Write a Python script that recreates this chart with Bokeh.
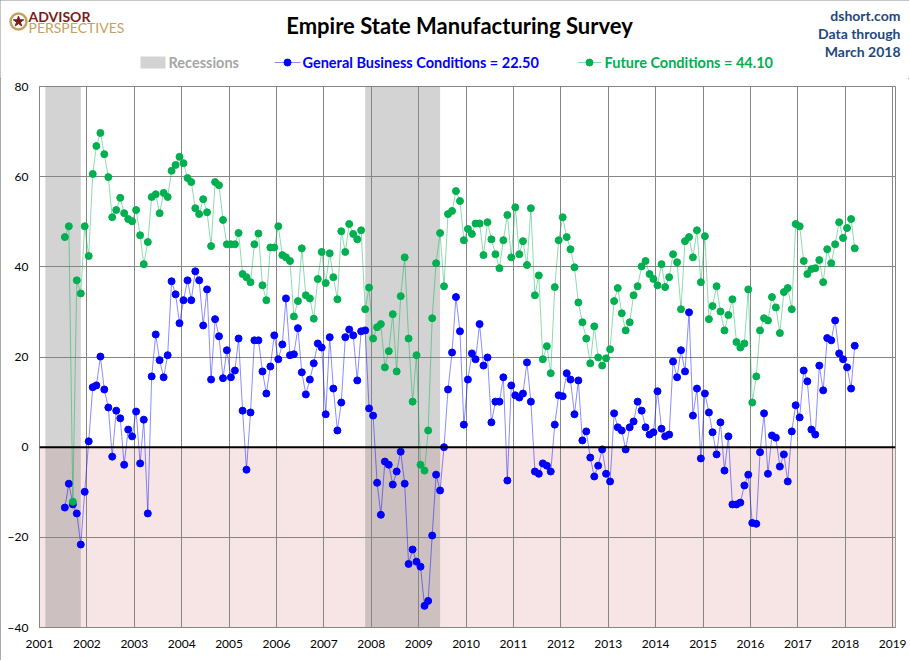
import pandas as pd
from bokeh.plotting import figure
from bokeh.layouts import column
from bokeh.models import Range1d, Span, Label, SingleIntervalTicker
from bokeh.embed import file_html
from bokeh.resources import INLINE

# monthly survey readings, Jul 2001 .. Mar 2018
first_month = "2001-07-01"
last_month = "2018-03-01"

general = [
    # 2001 (Jul-Dec)
    -13.4, -8.1, -12.7, -14.7, -21.6, -9.9,
    # 2002
    1.3, 13.3, 13.7, 20.1, 12.8, 8.8, -2.1, 8.1, 6.4, -3.9, 3.9, 2.4,
    # 2003
    7.9, -3.6, 6.1, -14.7, 15.7, 25.0, 19.3, 15.5, 20.4, 36.8, 33.9, 27.5,
    # 2004
    32.6, 37.0, 32.6, 39.0, 37.0, 27.0, 35.0, 15.0, 28.4, 24.6, 15.3, 21.5,
    # 2005
    15.5, 17.0, 24.1, 8.1, -5.0, 7.7, 23.7, 23.7, 16.8, 11.9, 17.9, 24.8,
    # 2006
    19.5, 22.8, 33.0, 20.4, 20.6, 26.4, 16.6, 11.7, 15.0, 18.6, 23.0, 22.1,
    # 2007
    7.3, 24.4, 13.0, 3.7, 9.9, 24.4, 26.1, 24.8, 14.8, 25.7, 25.9, 8.6,
    # 2008
    7.0, -7.9, -15.0, -3.2, -3.9, -8.3, -5.4, -1.0, -8.1, -25.9, -22.7, -25.4,
    # 2009
    -26.5, -35.2, -34.1, -19.6, -6.1, -9.6, 0.0, 12.8, 21.0, 33.3, 25.7, 5.0,
    # 2010
    15.0, 20.8, 19.5, 27.3, 18.1, 19.9, 5.5, 10.1, 10.1, 15.5, -7.4, 13.7,
    # 2011
    11.5, 11.0, 11.9, 18.8, 10.1, -5.4, -5.9, -3.6, -4.1, -5.4, 5.0, 11.5,
    # 2012
    11.3, 16.4, 15.0, 7.3, 14.8, 1.5, 3.5, -2.3, -6.5, -4.1, -0.5, -5.9,
    # 2013
    -7.6, 7.5, 4.4, 3.7, -0.5, 4.4, 5.7, 10.1, 8.1, 4.4, 2.8, 3.3,
    # 2014
    12.4, 4.1, 2.4, 2.8, 19.0, 15.5, 21.5, 16.8, 29.9, 7.0, 13.0, -2.5,
    # 2015
    11.9, 7.7, 3.3, -1.6, 5.5, -5.2, 2.4, -12.7, -12.7, -12.3, -8.5, -6.1,
    # 2016
    -16.8, -17.0, -1.1, 7.5, -5.9, 2.6, 2.1, -4.3, -1.6, -7.6, 3.5, 9.3,
    # 2017
    6.6, 17.0, 14.6, 3.9, 2.8, 18.1, 12.6, 24.2, 23.7, 28.1, 20.8, 19.5,
    # 2018 (Jan-Mar)
    17.7, 13.0, 22.5,
]

future = [
    # 2001 (Jul-Dec)
    46.6, 49.0, -12.1, 37.0, 34.1, 49.0,
    # 2002
    42.4, 60.6, 66.8, 69.7, 65.0, 59.9, 51.0, 52.6, 55.3, 51.9, 50.6, 50.1,
    # 2003
    52.6, 47.0, 40.6, 45.5, 55.5, 56.1, 51.9, 56.4, 55.5, 61.3, 62.6, 64.4,
    # 2004
    63.0, 59.7, 58.8, 53.0, 51.7, 55.0, 52.1, 44.6, 58.8, 58.1, 50.4, 45.0,
    # 2005
    45.0, 45.0, 47.5, 38.4, 37.7, 36.6, 45.0, 47.4, 35.9, 32.6, 44.3, 44.3,
    # 2006
    49.0, 42.6, 42.1, 41.3, 29.0, 32.4, 44.1, 33.7, 33.0, 28.5, 37.3, 43.3,
    # 2007
    36.4, 43.0, 37.7, 32.8, 47.9, 43.3, 49.5, 47.3, 46.1, 48.1, 30.6, 35.4,
    # 2008
    24.1, 26.6, 27.3, 17.7, 21.3, 29.5, 16.8, 33.5, 42.1, 24.1, 10.1, 20.4,
    # 2009
    -3.9, -5.2, 3.7, 28.6, 40.8, 47.5, 35.7, 51.7, 52.4, 56.8, 54.6, 45.9,
    # 2010
    48.4, 47.3, 49.6, 49.6, 42.6, 49.9, 46.1, 42.8, 39.7, 45.9, 51.5, 42.1,
    # 2011
    53.2, 42.8, 45.7, 40.4, 53.0, 33.7, 38.1, 19.5, 22.4, 16.4, 35.5, 45.9,
    # 2012
    51.0, 46.6, 43.9, 39.9, 32.1, 27.7, 24.1, 18.6, 26.8, 19.9, 18.1, 19.7,
    # 2013
    21.7, 32.4, 35.3, 29.7, 25.9, 27.7, 33.7, 35.7, 40.1, 41.3, 38.4, 37.3,
    # 2014
    35.9, 40.6, 35.5, 37.7, 42.8, 41.0, 30.6, 45.7, 46.6, 42.1, 48.1, 36.6,
    # 2015
    46.8, 28.4, 31.3, 35.7, 30.1, 25.9, 29.3, 32.8, 23.3, 22.1, 23.0, 35.0,
    # 2016
    9.9, 15.7, 25.9, 28.6, 28.1, 33.3, 31.0, 25.3, 34.4, 35.3, 30.6, 49.5,
    # 2017
    49.0, 41.3, 38.4, 39.5, 39.7, 41.5, 36.6, 43.9, 40.8, 45.0, 49.9, 46.4,
    # 2018 (Jan-Mar)
    48.6, 50.6, 44.1,
]

# recession shading as drawn on the chart
recession_start = ["2001-02-15", "2007-11-15"]
recession_end = ["2001-11-15", "2009-06-15"]

general_label = "General Business Conditions = %.2f" % general[-1]
future_label = "Future Conditions = %.2f" % future[-1]

BLUE = "#0000ff"
GREEN = "#00b050"
NAVY = "#1f497d"


def yearfrac(d):
    d = pd.Timestamp(d)
    days = 366 if d.is_leap_year else 365
    return d.year + (d.dayofyear - 1) / days


months = pd.date_range(first_month, last_month, freq="MS") + pd.Timedelta(days=14)
x = [yearfrac(m) for m in months]
assert len(x) == len(general) == len(future)

W, H = 909, 660
HEAD = 78

# ---- header strip: title, logo, legend, source (pixel coordinates)
h = figure(width=W, height=HEAD, output_backend="svg", toolbar_location=None,
           x_range=Range1d(0, W), y_range=Range1d(HEAD, 0),
           x_axis_location=None, y_axis_location=None,
           min_border=0, min_border_left=0, min_border_right=0,
           min_border_top=0, min_border_bottom=0)
h.frame_align = False
h.grid.visible = False
h.outline_line_color = None


def htext(txt, hx, hy, size, color, align="left", style="bold", font="Lato"):
    h.add_layout(Label(x=hx, y=hy, text=txt, text_font=font, text_font_size=size,
                       text_color=color, text_font_style=style,
                       text_align=align, text_baseline="middle"))


htext("Empire State Manufacturing Survey", 459, 25, "22px", "black", "center")
htext("dshort.com", 900, 15, "14px", NAVY, "right")
htext("Data through", 900, 33, "14px", NAVY, "right")
htext("March 2018", 900, 51, "14px", NAVY, "right")

# logo
h.scatter([18], [21], marker="circle", size=16, fill_color=None,
          line_color="#c4a061", line_width=2.5)
h.scatter([18], [21], marker="star", size=11, fill_color="#7b1c1c",
          line_color="#7b1c1c")
htext("ADVISOR", 28, 16, "14px", "#7b1c1c")
htext("PERSPECTIVES", 28, 27, "14px", "#c4a061", style="normal")

# legend
h.quad(left=[140], right=[165], top=[56], bottom=[68], fill_color="#d3d3d3",
       line_color=None)
htext("Recessions", 168, 62, "14.5px", "#a6a6a6")
h.segment([274], [62], [300], [62], line_color=BLUE, line_alpha=0.45, line_width=1)
h.scatter([287], [62], size=7, fill_color=BLUE, line_color=BLUE)
htext(general_label, 302, 62, "14.5px", BLUE)
h.segment([577], [62], [601], [62], line_color=GREEN, line_alpha=0.45, line_width=1)
h.scatter([589], [62], size=7, fill_color=GREEN, line_color=GREEN)
htext(future_label, 604, 62, "14.5px", GREEN)

# ---- chart
xlo, xhi = 2001.0, 2019.06
ylo, yhi = -40, 80

p = figure(width=W, height=H - HEAD, output_backend="svg", toolbar_location=None,
           x_range=Range1d(xlo, xhi), y_range=Range1d(ylo, yhi),
           min_border_left=39, min_border_right=14, min_border_top=8,
           min_border_bottom=33)
p.frame_align = False
p.outline_line_color = "#868686"
p.background_fill_color = "white"

# negative zone and recession bars, under the grid
p.quad(left=[xlo], right=[xhi], bottom=[ylo], top=[0], fill_color="#f7e4e4",
       line_color=None, level="image")
p.quad(left=[yearfrac(d) for d in recession_start],
       right=[yearfrac(d) for d in recession_end],
       bottom=ylo, top=yhi, fill_color="#666666", fill_alpha=0.29,
       line_color=None, level="image")

p.line(x, general, line_color=BLUE, line_alpha=0.45, line_width=1)
p.scatter(x, general, size=7, fill_color=BLUE, line_color=BLUE)
p.line(x, future, line_color=GREEN, line_alpha=0.45, line_width=1)
p.scatter(x, future, size=7, fill_color=GREEN, line_color=GREEN)

p.add_layout(Span(location=0, dimension="width", line_color="black", line_width=2))

p.xaxis.ticker = SingleIntervalTicker(interval=1)
p.yaxis.ticker = SingleIntervalTicker(interval=20)
for ax in (p.xaxis, p.yaxis):
    ax.axis_line_color = "#868686"
    ax.major_tick_in = 0
    ax.major_tick_out = 0
    ax.minor_tick_in = 0
    ax.minor_tick_out = 0
    ax.major_label_text_font = "Lato"
    ax.major_label_text_font_size = "12px"
    ax.major_label_text_color = "black"
p.xaxis.major_label_standoff = 12
p.yaxis.major_label_standoff = 11
p.grid.grid_line_color = "#868686"
p.grid.grid_line_width = 1

layout = column(h, p, spacing=0,
                styles={"outline": "1px solid #8c8c8c", "outline-offset": "-1px"})
open("out.html", "w").write(file_html(layout, INLINE))
